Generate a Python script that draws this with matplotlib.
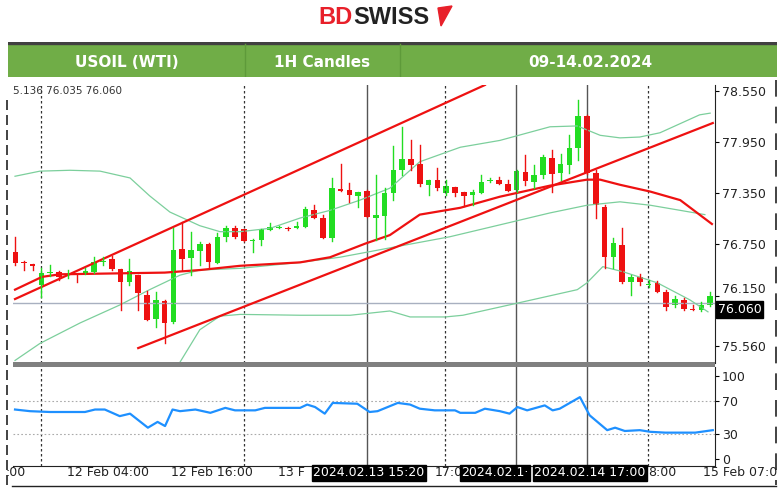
import matplotlib
matplotlib.use("Agg")
import matplotlib.pyplot as plt
from matplotlib.patches import Rectangle, Polygon

opens = [76.66,76.54,76.52,76.27,76.41,76.43,76.39,76.40,76.41,76.43,76.54,76.58,76.46,76.31,76.39,76.16,75.88,76.09,75.84,76.70,
         76.59,76.67,76.75,76.53,76.84,76.94,76.93,76.79,76.80,76.92,76.94,76.94,76.94,76.95,77.15,77.06,76.83,77.40,77.39,77.32,
         77.38,77.06,77.08,77.35,77.62,77.75,77.69,77.45,77.51,77.35,77.42,77.37,77.33,77.35,77.49,77.51,77.46,77.39,77.60,77.48,
         77.56,77.76,77.59,77.68,77.88,78.26,77.59,77.19,76.60,76.74,76.31,76.37,76.27,76.30,76.19,76.04,76.10,75.99,75.98,76.04]
closes = [76.53,76.53,76.50,76.41,76.43,76.37,76.40,76.39,76.44,76.54,76.56,76.46,76.31,76.44,76.18,75.86,76.10,75.83,76.68,76.58,
          76.68,76.75,76.54,76.84,76.94,76.84,76.79,76.80,76.93,76.95,76.95,76.93,76.97,77.17,77.06,76.83,77.41,77.38,77.33,77.37,
          77.07,77.10,77.35,77.62,77.75,77.68,77.46,77.51,77.41,77.44,77.35,77.32,77.37,77.48,77.51,77.46,77.38,77.61,77.49,77.56,
          77.77,77.58,77.69,77.88,78.26,77.59,77.21,76.60,76.77,76.31,76.37,76.31,76.29,76.19,76.02,76.11,75.99,75.98,76.04,76.14]
highs = [76.84,76.56,76.52,76.47,76.51,76.44,76.45,76.40,76.47,76.60,76.60,76.61,76.46,76.58,76.39,76.21,76.19,76.10,76.94,77.01,
         76.90,76.78,76.77,76.89,76.97,76.97,76.93,76.81,76.93,77.00,76.97,76.95,77.01,77.19,77.21,77.10,77.53,77.69,77.47,77.37,
         77.39,77.56,77.41,77.90,78.13,77.98,77.92,77.51,77.65,77.51,77.42,77.37,77.39,77.56,77.53,77.54,77.51,77.62,77.80,77.68,
         77.80,77.86,77.81,78.03,78.44,78.27,77.62,77.21,76.82,76.94,76.39,76.40,76.33,76.32,76.22,76.14,76.12,76.04,76.08,76.19]
lows = [76.51,76.45,76.45,76.13,76.38,76.33,76.36,76.31,76.40,76.41,76.51,76.45,75.98,76.27,75.98,75.86,75.78,75.59,75.83,76.45,
        76.39,76.51,76.47,76.53,76.79,76.83,76.79,76.66,76.74,76.92,76.94,76.92,76.94,76.95,77.06,76.83,76.79,77.38,77.25,77.19,
        77.07,76.80,76.81,77.27,77.57,77.62,77.44,77.33,77.39,77.33,77.32,77.20,77.21,77.35,77.48,77.46,77.38,77.37,77.45,77.41,
        77.53,77.37,77.51,77.59,77.74,77.58,77.06,76.47,76.47,76.30,76.16,76.27,76.25,76.19,75.98,76.02,75.98,75.98,75.97,76.03]

bb_up_x = [0,2.84,6.25,9.66,13.07,15.3,17.6,21,23.3,25.6,29,32.4,35.8,39.2,42.6,46,50.6,55.1,60.8,63.9,66.5,68.75,71,73.3,77.8,79]
bb_up_y = [77.55,77.61,77.62,77.61,77.53,77.32,77.13,76.97,76.90,76.90,76.94,77.06,77.15,77.27,77.41,77.72,77.89,77.97,78.13,78.14,78.03,78.0,78.01,78.06,78.27,78.29]
bb_mid_x = [0,2.84,7.4,11.9,15.3,18.75,21,25.6,32.4,36.9,42.6,49.4,55.1,60.8,65,68.75,72.2,75.6,78.4]
bb_mid_y = [75.39,75.59,75.83,76.04,76.22,76.39,76.45,76.47,76.54,76.60,76.71,76.84,76.98,77.12,77.21,77.25,77.21,77.15,77.10]
bb_lo_x = [18.75,21,23.3,25.6,32.4,38.1,42.6,44.9,48.9,50.9,57,63.9,65,66.8,69.1,73,76.7,78.75]
bb_lo_y = [75.37,75.75,75.91,75.93,75.92,75.92,75.97,75.90,75.90,75.92,76.06,76.22,76.30,76.49,76.43,76.30,76.10,75.96]
ma_x = [0,3.07,5.1,17,21,25.6,32.4,35.8,39.8,42.6,46,50.6,55.1,60.8,65,66.5,68.75,72.2,75.6,79.2]
ma_y = [76.22,76.37,76.40,76.42,76.45,76.50,76.54,76.60,76.76,76.86,77.10,77.18,77.31,77.44,77.51,77.51,77.45,77.37,77.27,76.99]
ch_up_x = [0,53.4]; ch_up_y = [76.11,78.62]
ch_lo_x = [14.0,79.3]; ch_lo_y = [75.535,78.174]

rsi_x = [0,1.7,3.98,7.95,9.09,10.2,11.9,13.07,15.1,16.2,17.05,17.9,18.75,20.5,22.2,23.9,25,27.3,28.4,32.4,33.2,34.1,35.2,36.1,38.9,
         40.3,41.2,43.5,44.9,46,47.7,50,50.6,52.3,53.4,55.1,56.2,57.1,58.2,60.2,61.1,61.9,64.2,65.3,67.3,68.2,69.3,71,72.2,73.9,77.3,79.3]
rsi_y = [60,58,57,57,60,60,52,55,38,45,40,60,58,60,56,62,59,59,62,62,66,63,55,68,67,
         57,58,68,66,61,59,59,56,56,61,58,55,63,59,65,59,61,75,53,35,38,34,35,33,32,32,35]

price_ticks = [78.550, 77.950, 77.350, 76.750, 76.150, 75.560]
rsi_ticks = [100, 70, 30, 0]
last_price = 76.060
dashed_v = [2.95, 26.0, 48.9, 71.9]
solid_v = [40, 56.9, 65]

W, H = 780, 488
fig = plt.figure(figsize=(7.8, 4.88), dpi=100)
fig.patch.set_facecolor("white")

def rect(l, t, r, b):
    return [l / W, 1 - b / H, (r - l) / W, (b - t) / H]

# header logo
fig.text(353 / W, 1 - 17 / H, "BD", color="#e8202a", fontsize=17, fontweight="bold", ha="right", va="center", family="Liberation Sans")
fig.text(353 / W, 1 - 17 / H, "SWISS", color="#222222", fontsize=17, fontweight="bold", ha="left", va="center", family="Liberation Sans")
fig.add_artist(Polygon([[438 / W, 1 - 8 / H], [452 / W, 1 - 6 / H], [441 / W, 1 - 26 / H]], closed=True,
                       transform=fig.transFigure, color="#e8202a"))

hdr = fig.add_axes(rect(8, 42, 777, 77))
hdr.set_xlim(0, 1); hdr.set_ylim(0, 1); hdr.axis("off")
hdr.add_patch(Rectangle((0, 0), 1, 1, color="#70ad47"))
hdr.add_patch(Rectangle((0, 0.93), 1, 0.07, color="#404040"))
for xd in [245, 400]:
    hdr.plot([(xd - 8) / 769] * 2, [0, 0.93], color="#5e9a3a", lw=1)
for xc, t in [(127, "USOIL (WTI)"), (322, "1H Candles"), (590, "09-14.02.2024")]:
    hdr.text((xc - 8) / 769, 0.42, t, color="white", fontsize=11, fontweight="bold", ha="center", va="center")

# main
ax = fig.add_axes(rect(13, 85, 715, 363))
ax.set_xlim(-0.23, 79.55)
ax.set_ylim(75.36, 78.62)
for x in dashed_v:
    ax.axvline(x, color="#333333", lw=0.9, ls=(0, (2, 2)))
for x in solid_v:
    ax.axvline(x, color="#555555", lw=1.0)
ax.axhline(last_price, color="#a8b0c0", lw=1)
ax.plot(bb_up_x, bb_up_y, color="#7ccf9c", lw=0.9)
ax.plot(bb_mid_x, bb_mid_y, color="#7ccf9c", lw=0.9)
ax.plot(bb_lo_x, bb_lo_y, color="#7ccf9c", lw=0.9)
ax.plot(ma_x, ma_y, color="#ee1111", lw=1.6)
ax.plot(ch_up_x, ch_up_y, color="#ee1111", lw=1.6)
ax.plot(ch_lo_x, ch_lo_y, color="#ee1111", lw=1.6)
for i, (o, h, l, c) in enumerate(zip(opens, highs, lows, closes)):
    col = "#22dd22" if c >= o else "#ee1111"
    ax.plot([i, i], [l, h], color=col, lw=1)
    ax.add_patch(Rectangle((i - 0.32, min(o, c)), 0.64, max(abs(c - o), 0.012), color=col, lw=0))
ax.yaxis.tick_right()
ax.set_yticks(price_ticks)
labels = ax.set_yticklabels([f"{v:.3f}" for v in price_ticks], fontsize=9, color="#222222")
labels[4].set_va("bottom")
ax.tick_params(axis="y", length=3, pad=2)
ax.set_xticks([])
for s in ["top", "left", "bottom"]:
    ax.spines[s].set_visible(False)
ax.spines["right"].set_color("#222222")
ax.text(1.004, (last_price - 75.36) / (78.62 - 75.36), "76.060", transform=ax.transAxes, fontsize=9,
        color="white", va="top", ha="left", zorder=10,
        bbox=dict(boxstyle="square,pad=0.15", fc="black", ec="black"))
ax.text(0.0, 0.995, "5.136 76.035 76.060", transform=ax.transAxes, fontsize=7.5, color="#333333", va="top", ha="left")

# separator
sep = fig.add_axes(rect(13, 362, 715, 367))
sep.axis("off"); sep.add_patch(Rectangle((0, 0), 1, 1, color="#808080", transform=sep.transAxes))

# RSI
rx = fig.add_axes(rect(13, 367, 715, 466))
rx.set_xlim(-0.23, 79.55)
rx.set_ylim(-8.4, 111.5)
for x in dashed_v:
    rx.axvline(x, color="#333333", lw=0.9, ls=(0, (2, 2)))
for x in solid_v:
    rx.axvline(x, color="#555555", lw=1.0)
for v in [70, 30]:
    rx.axhline(v, color="#aaaaaa", lw=0.8, ls=(0, (1.5, 2)))
rx.plot(rsi_x, rsi_y, color="#1e90ff", lw=1.6)
rx.yaxis.tick_right()
rx.set_yticks(rsi_ticks)
rx.set_yticklabels([str(v) for v in rsi_ticks], fontsize=9, color="#222222")
rx.tick_params(axis="y", length=3, pad=2)
rx.set_xticks([])
for s in ["top", "left"]:
    rx.spines[s].set_visible(False)
rx.spines["right"].set_color("#222222")
rx.spines["bottom"].set_color("#222222")

# x labels
ylab = 1 - 473 / H
for xp, t in [(16, ":00"), (108, "12 Feb 04:00"), (212, "12 Feb 16:00"), (291, "13 F"), (449, "17:0"), (662, "8:00"), (740, "15 Feb 07:0")]:
    fig.text(xp / W, ylab, t, fontsize=9, color="#222222", ha="center", va="center")
for xp, t in [(369, "2024.02.13 15:20"), (495, "2024.02.1·"), (590, "2024.02.14 17:00")]:
    fig.text(xp / W, ylab, t, fontsize=9, color="white", ha="center", va="center",
             bbox=dict(boxstyle="square,pad=0.12", fc="black", ec="black"))

# frame lines
fig.add_artist(plt.Line2D([7 / W, 7 / W], [1 - 100 / H, 1 - 485 / H], color="#222222", lw=1.2, ls=(0, (6, 3))))
fig.add_artist(plt.Line2D([776 / W, 776 / W], [1 - 80 / H, 1 - 485 / H], color="#222222", lw=1.2, ls=(0, (10, 6))))
fig.add_artist(plt.Line2D([12 / W, 776 / W], [1 - 486 / H] * 2, color="#222222", lw=1))

fig.savefig("out.png", dpi=100)
